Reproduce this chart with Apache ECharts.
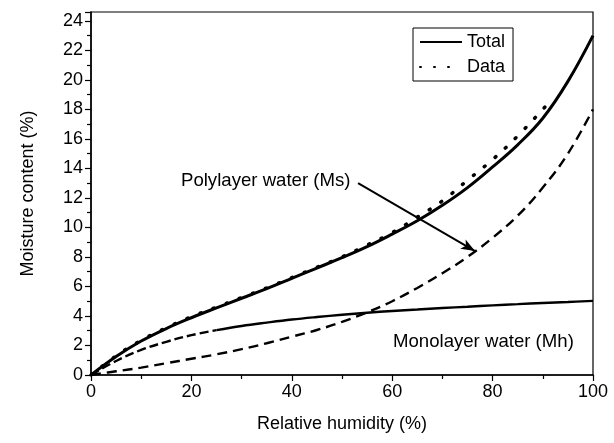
<!DOCTYPE html>
<html>
<head>
<meta charset="utf-8">
<script src="https://cdn.jsdelivr.net/npm/echarts@6/dist/echarts.min.js"></script>
<style>
html,body{margin:0;padding:0;background:#fff;}
#chart{width:614px;height:443px;}
</style>
</head>
<body>
<div id="chart"></div>
<script>
// Relative humidity (%) sample points
var rh = [0,5,10,15,20,25,30,35,40,45,50,55,60,65,70,75,80,85,90,95,100];
// Monolayer water (Mh)
var mh = [0,0.95,1.7,2.25,2.7,3.04,3.32,3.55,3.76,3.93,4.08,4.22,4.34,4.44,4.54,4.63,4.72,4.8,4.88,4.95,5.02];
// Polylayer water (Ms)
var ms = [0,0.25,0.5,0.8,1.1,1.4,1.75,2.15,2.6,3.05,3.6,4.25,5.0,5.9,6.9,8.0,9.3,10.8,12.7,15.0,18.0];
// Total model
var total = [0,1.25,2.3,3.15,3.88,4.55,5.2,5.85,6.55,7.25,7.95,8.7,9.55,10.45,11.5,12.7,14.1,15.6,17.4,19.9,23.0];
// Experimental data
var dataRh = [0,5,10,15,20,25,30,35,40,45,50,55,60,65,70,75,80,85,90,91];
var dataM  = [0,1.3,2.35,3.2,3.95,4.6,5.25,5.9,6.6,7.3,8.0,8.8,9.65,10.7,11.8,13.2,14.6,16.2,18.0,18.4];
// Axis ticks
var xTicks = [0,20,40,60,80,100];
var yTicks = [0,2,4,6,8,10,12,14,16,18,20,22,24];

function pairs(xs, ys){ return xs.map(function(x,i){ return [x, ys[i]]; }); }
var mhPts = pairs(rh, mh);
var FONT = 'Liberation Sans, Arial, sans-serif';
var FS = 18;
var FA = 18.6;

var chart = echarts.init(document.getElementById('chart'));
chart.setOption({
  animation: false,
  backgroundColor: '#fff',
  grid: { left: 91, right: 21, top: 12, bottom: 68, show: true, borderColor: '#000', borderWidth: 1.2 },
  xAxis: {
    type: 'value', min: xTicks[0], max: xTicks[xTicks.length-1], interval: 20,
    name: 'Relative humidity (%)', nameLocation: 'middle', nameGap: 40,
    nameTextStyle: { fontFamily: FONT, fontSize: FS, color: '#000' },
    axisLine: { lineStyle: { color: '#000', width: 1.5 } },
    axisTick: { show: true, inside: false, length: 6, lineStyle: { color: '#000', width: 1.2 } },
    minorTick: { show: true, splitNumber: 2, length: 4, lineStyle: { color: '#000', width: 1.2 } },
    axisLabel: { fontFamily: FONT, fontSize: FS, color: '#000', margin: 8 },
    splitLine: { show: false }
  },
  yAxis: {
    type: 'value', min: yTicks[0], max: 24.6, interval: 2,
    name: 'Moisture content (%)', nameLocation: 'middle', nameGap: 54,
    nameTextStyle: { fontFamily: FONT, fontSize: FS, color: '#000' },
    axisLine: { show: true, lineStyle: { color: '#000', width: 1.5 } },
    axisTick: { show: true, inside: false, length: 6, lineStyle: { color: '#000', width: 1.2 } },
    minorTick: { show: true, splitNumber: 2, length: 4, lineStyle: { color: '#000', width: 1.2 } },
    axisLabel: { fontFamily: FONT, fontSize: FS, color: '#000', margin: 8, showMaxLabel: false },
    splitLine: { show: false }
  },
  legend: {
    data: ['Total', 'Data'],
    orient: 'vertical', left: 413, top: 28,
    borderColor: '#000', borderWidth: 1, padding: [5, 8, 5, 6],
    itemWidth: 42, itemHeight: 12, itemGap: 7,
    itemStyle: { color: 'rgba(0,0,0,0)', borderWidth: 0, opacity: 0 },
    textStyle: { fontFamily: FONT, fontSize: FS, color: '#000' }
  },
  graphic: [
    { type: 'text', left: 181, top: 171, style: { text: 'Polylayer water (Ms)', font: FA + 'px ' + FONT, fill: '#000' } },
    { type: 'text', left: 393, top: 332, style: { text: 'Monolayer water (Mh)', font: FA + 'px ' + FONT, fill: '#000' } }
  ],
  series: [
    {
      name: 'Total', type: 'line', data: pairs(rh, total), smooth: 0.4, showSymbol: false, symbol: 'none',
      lineStyle: { color: '#000', width: 3 }, itemStyle: { color: '#000' }, z: 5
    },
    {
      name: 'Data', type: 'line', data: pairs(dataRh, dataM), smooth: 0.4, showSymbol: false, symbol: 'none',
      lineStyle: { color: '#000', width: 3.5, type: [1, 13], cap: 'round' }, itemStyle: { color: '#000' }, z: 4
    },
    {
      name: 'Mh1', type: 'line', data: mhPts.slice(0, 6), smooth: 0.4, showSymbol: false, symbol: 'none',
      lineStyle: { color: '#000', width: 2.4, type: [9, 4] }, itemStyle: { color: '#000' }
    },
    {
      name: 'Mh2', type: 'line', data: mhPts.slice(5), smooth: 0.4, showSymbol: false, symbol: 'none',
      lineStyle: { color: '#000', width: 2.4 }, itemStyle: { color: '#000' }
    },
    {
      name: 'Ms', type: 'line', data: pairs(rh, ms), smooth: 0.4, showSymbol: false, symbol: 'none',
      lineStyle: { color: '#000', width: 2.4, type: [10, 6] }, itemStyle: { color: '#000' },
      markLine: {
        silent: true, animation: false,
        symbol: ['none', 'arrow'], symbolSize: [8, 14],
        label: { show: false },
        lineStyle: { color: '#000', width: 2, type: 'solid' },
        data: [[ { coord: [53.2, 13.0] }, { coord: [76.5, 8.4] } ]]
      }
    }
  ]
});
</script>
</body>
</html>
